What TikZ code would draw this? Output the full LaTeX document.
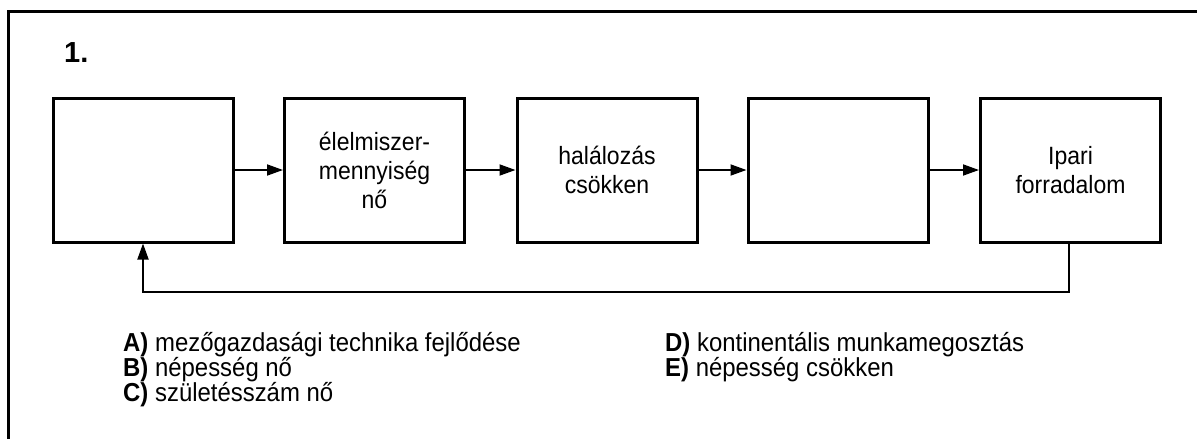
\documentclass[tikz,border=0pt]{standalone}
\usepackage{fontspec}
\setmainfont[FakeStretch=0.92]{Liberation Sans}
\newfontfamily\titlefont{Liberation Sans}
\usetikzlibrary{arrows.meta}
\tikzset{
  stepbox/.style={draw, line width=3pt, minimum width=180pt, minimum height=144pt, inner sep=0pt, align=center, font=\fontsize{25}{29}\selectfont},
  conn/.style={line width=1.8pt, -{Triangle[length=16pt,width=11pt]}},
  item/.style={anchor=base west, inner sep=0pt, font=\fontsize{26}{26}\selectfont}
}
\begin{document}
\begin{tikzpicture}[x=1pt,y=-1pt]
\useasboundingbox (0,0) rectangle (1197,439);
\clip (0,0) rectangle (1197,439);
\fill[white] (0,0) rectangle (1197,439);
\draw[line width=3pt] (8,11) rectangle (1220,460);
\node[anchor=base west, inner sep=0pt, font=\titlefont\fontsize{29}{36}\selectfont\bfseries] (title) at (64,62) {1.};
\node[stepbox] (b1) at (143.5,170) {};
\node[stepbox] (b2) at (374.5,170) {élelmiszer-\\mennyiség\\nő};
\node[stepbox] (b3) at (607,170) {halálozás\\csökken};
\node[stepbox] (b4) at (838,170) {};
\node[stepbox] (b5) at (1070.5,170) {Ipari\\forradalom};
\draw[conn] (b1) -- (b2);
\draw[conn] (b2) -- (b3);
\draw[conn] (b3) -- (b4);
\draw[conn] (b4) -- (b5);
\coordinate (c1) at (1069,292);
\coordinate (c2) at (143,292);
\draw[conn] (b5.south -| c1) -- (c1) -- (c2) -- (b1.south -| c2);
\node[item] (ia) at (123,351) {\textbf{A)} mezőgazdasági technika fejlődése};
\node[item] (ib) at (123,376) {\textbf{B)} népesség nő};
\node[item] (ic) at (123,401) {\textbf{C)} születésszám nő};
\node[item] (id) at (665,351) {\textbf{D)} kontinentális munkamegosztás};
\node[item] (ie) at (665,376) {\textbf{E)} népesség csökken};
\end{tikzpicture}
\end{document}
